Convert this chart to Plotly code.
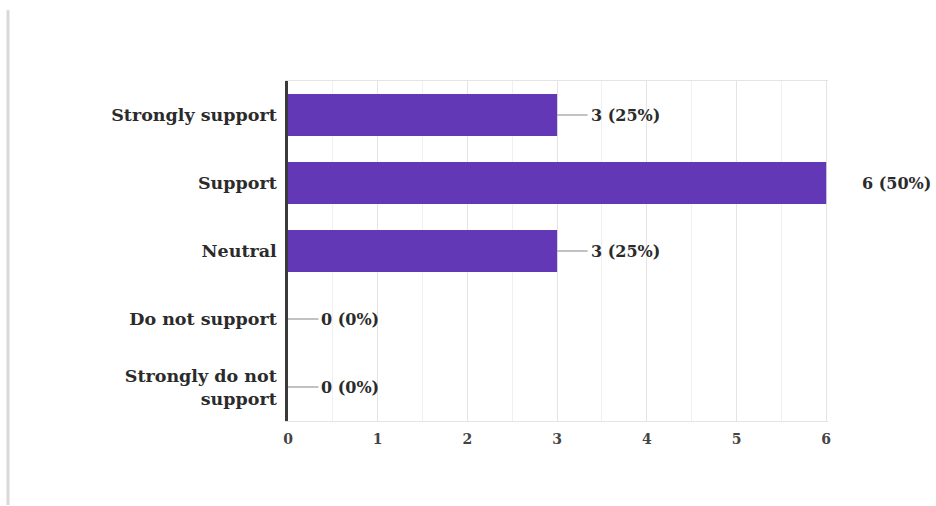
import plotly.graph_objects as go

categories = ["Strongly support", "Support", "Neutral", "Do not support", "Strongly do not<br>support"]
counts = [3, 6, 3, 0, 0]
percents = [25, 50, 25, 0, 0]
x_ticks = [0, 1, 2, 3, 4, 5, 6]

BAR = "#6338B6"
FONT = "DejaVu Serif"
TXT = "#2b2b2b"

fig = go.Figure()
fig.add_trace(go.Bar(
    y=categories, x=counts, orientation="h",
    marker=dict(color=BAR, line=dict(width=0)),
    width=0.62, hoverinfo="skip",
))

for cat, c, p in zip(categories, counts, percents):
    label = f"<b>{c} ({p}%)</b>"
    if c >= 6:
        fig.add_annotation(x=c, y=cat, xref="x", yref="y", text=label, xshift=34,
                           showarrow=False, xanchor="left",
                           font=dict(family=FONT, size=16, color=TXT))
    else:
        fig.add_shape(type="line", xref="x", yref="y", x0=c, x1=c + 0.34, y0=cat, y1=cat,
                      line=dict(color="#9a9a9a", width=1.2), layer="above")
        fig.add_annotation(x=c + 0.35, y=cat, xref="x", yref="y", text=label,
                           showarrow=False, xanchor="left",
                           font=dict(family=FONT, size=16, color=TXT))

# left page border strip
fig.add_shape(type="line", xref="paper", yref="paper", x0=-0.5185, x1=-0.5185, y0=-0.247, y1=1.209,
              line=dict(color="#d9d9d9", width=3), layer="below")

fig.update_layout(
    width=936, height=506,
    margin=dict(l=288, r=108, t=81, b=85),
    paper_bgcolor="white", plot_bgcolor="white",
    showlegend=False, bargap=0.38,
    font=dict(family=FONT, color=TXT),
)
fig.update_xaxes(
    range=[0, 6.02], tickvals=x_ticks, ticktext=[f"<b>{t}</b>" for t in x_ticks],
    showgrid=True, gridcolor="#e4e4e4", gridwidth=1,
    minor=dict(dtick=0.5, showgrid=True, gridcolor="#f0f0f0", gridwidth=1),
    showline=True, linecolor="#e4e4e4", linewidth=1, mirror=True,
    zeroline=False, ticks="", ticklabelstandoff=5,
    tickfont=dict(family=FONT, size=14, color="#444"),
    fixedrange=True,
)
fig.update_yaxes(
    categoryorder="array", categoryarray=categories[::-1],
    tickvals=categories, ticktext=[f"<b>{c}</b>" for c in categories],
    showgrid=False, showline=True, linecolor="#3a3a3a", linewidth=2.5,
    ticks="", ticklabelstandoff=5, tickfont=dict(family=FONT, size=17.5, color=TXT),
    fixedrange=True,
)

fig.write_html("out.html")
